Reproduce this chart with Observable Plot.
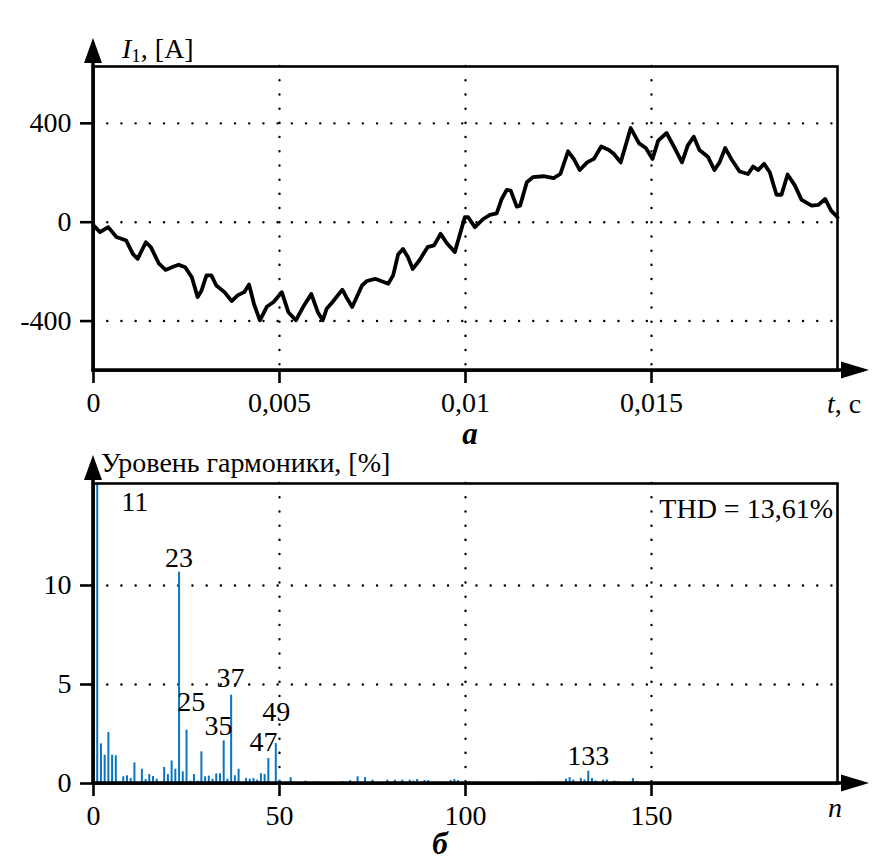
<!DOCTYPE html>
<html><head><meta charset="utf-8">
<script src="https://cdn.jsdelivr.net/npm/d3@7"></script>
<script src="https://cdn.jsdelivr.net/npm/@observablehq/plot@0.6"></script>
<style>body{margin:0;background:#fff} #c svg{display:block}</style>
</head><body><div id="c"></div><script>
// ---- Panel (а): phase current I1 vs time ----
const tMs = [0,0.176,0.396,0.616,0.880,1.056,1.188,1.408,1.541,1.761,1.937,2.157,2.289,2.465,2.641,2.799,2.905,3.037,3.169,3.301,3.521,3.715,3.873,4.049,4.181,4.313,4.472,4.666,4.842,5.062,5.238,5.440,5.634,5.854,6.030,6.162,6.268,6.426,6.690,6.822,6.954,7.218,7.350,7.571,7.923,8.055,8.187,8.319,8.451,8.583,8.759,8.979,9.155,9.331,9.50,9.712,9.982,10.072,10.252,10.477,10.658,10.838,10.973,11.108,11.216,11.378,11.468,11.649,11.811,12.099,12.369,12.550,12.757,12.910,13.072,13.270,13.450,13.649,13.856,13.991,14.171,14.441,14.667,14.847,15.027,15.180,15.405,15.613,15.820,15.973,16.135,16.288,16.514,16.694,16.829,16.982,17.144,17.369,17.595,17.730,17.865,18.027,18.180,18.360,18.495,18.658,18.856,19.036,19.306,19.486,19.667,19.829,20.0];
const currentA = [-13,-40,-20,-60,-74,-128,-148,-81,-101,-168,-193,-179,-172,-182,-222,-303,-276,-215,-215,-256,-283,-319,-296,-283,-252,-330,-397,-341,-323,-283,-364,-397,-343,-290,-364,-397,-350,-323,-273,-310,-343,-256,-238,-229,-249,-215,-131,-108,-141,-189,-155,-101,-94,-47,-85,-121,20,20,-20,13,30,36,94,131,128,63,67,162,182,186,178,195,287,256,211,242,256,306,292,276,242,381,319,300,256,330,361,303,242,310,346,292,265,211,242,300,256,205,195,225,211,236,202,111,111,193,148,90,67,70,94,47,20];
const tTicks = [0, 0.005, 0.01, 0.015];
const iTicks = [-400, 0, 400];

// ---- Panel (б): harmonic spectrum ----
const harmN =   [1,2,3,4,5,6,7,8,9,10,11,12,13,14,15,16,17,18,19,20,21,22,23,24,25,26,27,28,29,30,31,32,33,34,35,36,37,38,39,40,41,42,43,44,45,46,47,48,49,50,53,54,56,57,59,60,62,63,67,69,71,73,75,77,79,81,83,85,86,87,89,90,93,96,97,98,101,103,104,105,111,118,121,125,127,128,129,131,132,133,134,135,137,138,140,141,145,146,150,153,157];
const harmPct = [100,2.0,1.43,2.58,1.43,1.40,0.08,0.34,0.39,0.25,1.04,0.05,0.72,0.2,0.45,0.35,0.22,0.08,0.81,0.45,1.14,0.72,10.67,0.59,2.69,0.12,0.45,0.12,1.6,0.34,0.37,0.22,0.49,0.49,2.15,0.22,4.46,0.39,0.72,0.05,0.25,0.22,0.25,0.17,0.49,0.45,1.26,0.05,2.02,0.17,0.3,0.05,0.05,0.12,0.08,0.08,0.05,0.05,0.1,0.15,0.34,0.3,0.17,0.05,0.17,0.17,0.17,0.17,0.12,0.2,0.15,0.15,0.07,0.15,0.2,0.15,0.08,0.07,0.05,0.05,0.05,0.05,0.07,0.07,0.22,0.3,0.17,0.25,0.17,0.62,0.25,0.12,0.17,0.17,0.12,0.1,0.25,0.07,0.07,0.05,0.05];
const nTicks = [0, 50, 100, 150];
const pctTicks = [0, 5, 10];
const labelText = ["11","23","25","35","37","47","49","133"];
const labelN =    [11.1, 23, 26.3, 33.6, 36.8, 45.7, 49.1, 133];
const labelPct =  [14.2, 11.4, 4.1, 2.9, 5.35, 2.1, 3.6, 1.4];
const thdText = "THD = 13,61%";

const font = "'Liberation Serif','Times New Roman',serif";
const dotted = {stroke: "black", strokeWidth: 2.4, strokeDasharray: "0.1,14.1", strokeLinecap: "round"};
const wave = tMs.map((t, i) => ({t: t / 1000, i: currentA[i]}));
const bars = harmN.map((n, i) => ({n, p: harmPct[i]}));
const labels = labelText.map((s, i) => ({s, n: labelN[i], p: labelPct[i]}));

const topPlot = Plot.plot({
  width: 879, height: 450,
  marginLeft: 93, marginRight: 42, marginTop: 66, marginBottom: 80,
  style: {fontFamily: font, fontSize: "28px", background: "white", color: "black", overflow: "visible"},
  x: {domain: [0, 0.02]},
  y: {domain: [-600, 630]},
  marks: [
    Plot.ruleY(iTicks, dotted),
    Plot.ruleX(tTicks.filter(d => d > 0), dotted),
    Plot.line(wave, {x: "t", y: "i", stroke: "black", strokeWidth: 3.8, strokeLinejoin: "round"}),
    Plot.frame({stroke: "black", strokeWidth: 2.6}),
    Plot.axisY(iTicks, {tickSize: 13, tickPadding: 9, strokeWidth: 2.6, fontSize: 28, tickFormat: d => String(d), label: null}),
    Plot.axisX(tTicks, {tickSize: 13, tickPadding: 9, strokeWidth: 2.6, fontSize: 28, tickFormat: d => String(d).replace(".", ","), label: null})
  ]
});

const botPlot = Plot.plot({
  width: 879, height: 413,
  marginLeft: 93, marginRight: 42, marginTop: 33, marginBottom: 80,
  style: {fontFamily: font, fontSize: "28px", background: "white", color: "black", overflow: "visible"},
  x: {domain: [0, 200]},
  y: {domain: [0, 15.15]},
  marks: [
    Plot.ruleY(pctTicks.filter(d => d > 0), dotted),
    Plot.ruleX(nTicks.filter(d => d > 0), dotted),
    Plot.ruleX(bars, {x: "n", y1: 0, y2: "p", stroke: "#0a74c4", strokeWidth: 2, clip: true}),
    Plot.frame({stroke: "black", strokeWidth: 2.6}),
    Plot.text(labels, {x: "n", y: "p", text: "s", fontSize: 28, fill: "black"}),
    Plot.axisY(pctTicks, {tickSize: 13, tickPadding: 9, strokeWidth: 2.6, fontSize: 28, label: null}),
    Plot.axisX(nTicks, {tickSize: 13, tickPadding: 9, strokeWidth: 2.6, fontSize: 28, label: null})
  ]
});

function decorate(plot) {
  const svg = d3.select(plot);
  const sx = plot.scale("x"), sy = plot.scale("y");
  const x0 = sx.apply(sx.domain[0]);
  const xR = sx.apply(sx.domain[1]);
  const yB = sy.apply(sy.domain[0]);
  const yT = sy.apply(sy.domain[1]);
  const g = svg.append("g").attr("text-anchor", "start").attr("font-family", font);
  g.append("line").attr("x1", x0).attr("x2", x0).attr("y1", yB + 1.5).attr("y2", yT - 10)
    .attr("stroke", "black").attr("stroke-width", 3.6);
  g.append("line").attr("x1", x0 - 1.5).attr("x2", xR + 8).attr("y1", yB).attr("y2", yB)
    .attr("stroke", "black").attr("stroke-width", 3.6);
  g.append("path").attr("d", `M${x0 - 9},${yT - 3}L${x0},${yT - 28}L${x0 + 9},${yT - 3}Z`).attr("fill", "black");
  g.append("path").attr("d", `M${xR + 4},${yB - 8.5}L${xR + 32},${yB}L${xR + 4},${yB + 8.5}Z`).attr("fill", "black");
  return g;
}

const g1 = decorate(topPlot);
const t1 = g1.append("text").attr("x", 122).attr("y", 58).attr("font-size", 28).attr("text-anchor", "start");
t1.append("tspan").attr("font-style", "italic").text("I");
t1.append("tspan").attr("font-size", 19).attr("dy", 4).text("1");
t1.append("tspan").attr("dy", -4).text(", [A]");
const t2 = g1.append("text").attr("x", 827).attr("y", 413).attr("font-size", 28).attr("text-anchor", "start");
t2.append("tspan").attr("font-style", "italic").text("t");
t2.append("tspan").text(", c");
g1.append("text").attr("x", 470).attr("y", 444).attr("text-anchor", "middle").attr("font-size", 31)
  .attr("font-style", "italic").attr("font-weight", "bold").text("а");

const g2 = decorate(botPlot);
g2.append("text").attr("x", 101).attr("y", 22).attr("font-size", 28).attr("text-anchor", "start").text("Уровень гармоники, [%]");
g2.append("text").attr("x", 833).attr("y", 68).attr("text-anchor", "end").attr("font-size", 28).text(thdText);
g2.append("text").attr("x", 828).attr("y", 367).attr("font-size", 28).attr("font-style", "italic").attr("text-anchor", "start").text("n");
g2.append("text").attr("x", 440).attr("y", 404).attr("text-anchor", "middle").attr("font-size", 31)
  .attr("font-style", "italic").attr("font-weight", "bold").text("б");

document.getElementById("c").append(topPlot, botPlot);
</script></body></html>
